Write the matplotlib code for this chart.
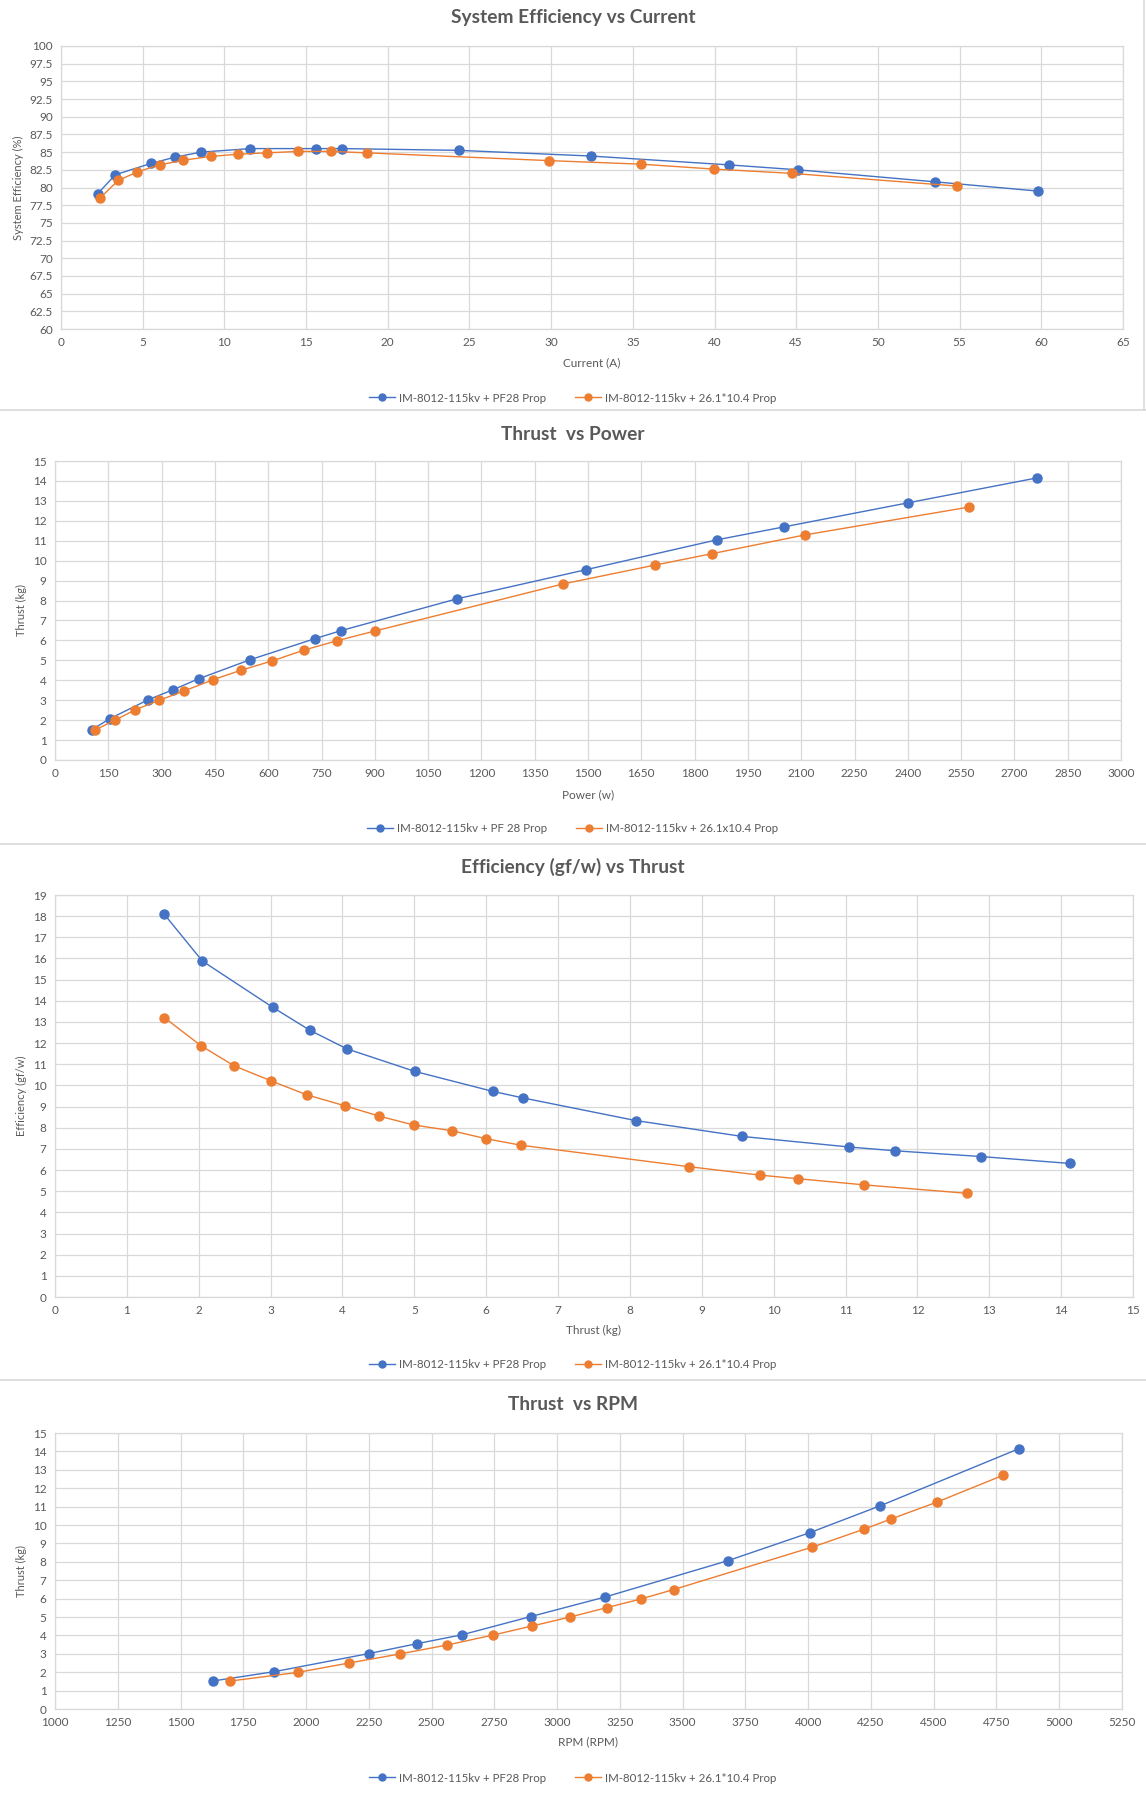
import matplotlib
matplotlib.use('Agg')
import matplotlib.pyplot as plt
from matplotlib.lines import Line2D
import numpy as np

plt.rcParams['font.family'] = ['Lato', 'DejaVu Sans']

# System efficiency vs current
cur_pf28 = [2.24, 3.32, 5.51, 6.99, 8.57, 11.59, 15.6, 17.2, 24.35, 32.42, 40.86, 45.1, 53.5, 59.77]
eff_pf28 = [79.1, 81.8, 83.4, 84.3, 85.0, 85.5, 85.5, 85.5, 85.25, 84.45, 83.2, 82.5, 80.8, 79.5]
cur_261 = [2.36, 3.5, 4.67, 6.03, 7.48, 9.18, 10.84, 12.62, 14.53, 16.52, 18.71, 29.88, 35.47, 39.98, 44.72, 54.86]
eff_261 = [78.45, 81.0, 82.2, 83.2, 83.85, 84.4, 84.7, 84.9, 85.1, 85.1, 84.9, 83.8, 83.3, 82.6, 82.0, 80.2]

# Thrust vs power
pow_pf28 = [104, 154, 263, 333, 405, 549, 732, 805, 1130, 1495, 1864, 2053, 2400, 2763]
thr_pf28 = [1.52, 2.07, 3.03, 3.53, 4.08, 5.03, 6.09, 6.49, 8.08, 9.55, 11.05, 11.7, 12.9, 14.15]
pow_261 = [112, 168, 225, 292, 363, 445, 523, 611, 702, 795, 900, 1429, 1689, 1849, 2110, 2573]
thr_261 = [1.5, 1.99, 2.51, 2.99, 3.46, 4.03, 4.5, 4.97, 5.52, 5.99, 6.47, 8.83, 9.78, 10.35, 11.29, 12.69]

# Efficiency vs thrust
et_pf28 = [1.52, 2.05, 3.03, 3.55, 4.06, 5.01, 6.09, 6.51, 8.08, 9.56, 11.05, 11.69, 12.88, 14.13]
ge_pf28 = [18.09, 15.88, 13.69, 12.6, 11.73, 10.66, 9.72, 9.41, 8.34, 7.59, 7.09, 6.91, 6.64, 6.31]
et_261 = [1.52, 2.03, 2.49, 3.01, 3.5, 4.03, 4.51, 4.99, 5.52, 6.0, 6.49, 8.82, 9.81, 10.34, 11.26, 12.69]
ge_261 = [13.21, 11.88, 10.93, 10.21, 9.56, 9.04, 8.55, 8.13, 7.86, 7.48, 7.17, 6.16, 5.76, 5.59, 5.30, 4.90]

# Thrust vs RPM
rpm_pf28 = [1628, 1874, 2249, 2442, 2623, 2894, 3192, 3680, 4006, 4288, 4840]
rt_pf28 = [1.52, 2.03, 3.01, 3.55, 4.04, 5.02, 6.09, 8.06, 9.58, 11.05, 14.15]
rpm_261 = [1698, 1967, 2171, 2373, 2563, 2745, 2900, 3052, 3198, 3334, 3464, 4017, 4224, 4331, 4514, 4776]
rt_261 = [1.52, 1.99, 2.5, 2.99, 3.48, 4.02, 4.51, 5.0, 5.51, 5.98, 6.49, 8.8, 9.78, 10.33, 11.25, 12.7]

BLUE = '#4472C4'
ORANGE = '#ED7D31'
GRID = '#D9D9D9'
TXT = '#595959'

W, H = 1146, 1796
fig = plt.figure(figsize=(W / 100, H / 100), dpi=100)


def make_axes(left, right, top, bottom):
    return fig.add_axes([left / W, 1 - bottom / H, (right - left) / W, (bottom - top) / H])


panels = [
    dict(box=(61, 1123, 46, 329), title='System Efficiency vs Current', title_y=17,
         xs=(cur_pf28, cur_261), ys=(eff_pf28, eff_261),
         xlim=(0, 65), xstep=5, ylim=(60, 100), ystep=2.5,
         xlabel='Current (A)', ylabel='System Efficiency (%)', xlabel_y=363, leg_y=398,
         labels=('IM-8012-115kv + PF28 Prop', 'IM-8012-115kv + 26.1*10.4 Prop')),
    dict(box=(55, 1121, 461, 760), title='Thrust  vs Power', title_y=435,
         xs=(pow_pf28, pow_261), ys=(thr_pf28, thr_261),
         xlim=(0, 3000), xstep=150, ylim=(0, 15), ystep=1,
         xlabel='Power (w)', ylabel='Thrust (kg)', xlabel_y=795, leg_y=829,
         labels=('IM-8012-115kv + PF 28 Prop', 'IM-8012-115kv + 26.1x10.4 Prop')),
    dict(box=(55, 1133, 895, 1297), title='Efficiency (gf/w) vs Thrust', title_y=867,
         xs=(et_pf28, et_261), ys=(ge_pf28, ge_261),
         xlim=(0, 15), xstep=1, ylim=(0, 19), ystep=1,
         xlabel='Thrust (kg)', ylabel='Efficiency (gf/w)', xlabel_y=1330, leg_y=1365,
         labels=('IM-8012-115kv + PF28 Prop', 'IM-8012-115kv + 26.1*10.4 Prop')),
    dict(box=(55, 1122, 1433, 1709), title='Thrust  vs RPM', title_y=1405,
         xs=(rpm_pf28, rpm_261), ys=(rt_pf28, rt_261),
         xlim=(1000, 5250), xstep=250, ylim=(0, 15), ystep=1,
         xlabel='RPM (RPM)', ylabel='Thrust (kg)', xlabel_y=1742, leg_y=1778,
         labels=('IM-8012-115kv + PF28 Prop', 'IM-8012-115kv + 26.1*10.4 Prop')),
]

for p in panels:
    left, right, top, bottom = p['box']
    ax = make_axes(left, right, top, bottom)
    for xv, yv, col, lab in zip(p['xs'], p['ys'], (BLUE, ORANGE), p['labels']):
        ax.plot(xv, yv, color=col, lw=1.0, marker='o', ms=6.5, label=lab, zorder=3)
    ax.set_xlim(*p['xlim'])
    ax.set_ylim(*p['ylim'])
    ax.set_xticks(np.arange(p['xlim'][0], p['xlim'][1] + p['xstep'] / 2, p['xstep']))
    ax.set_yticks(np.arange(p['ylim'][0], p['ylim'][1] + p['ystep'] / 2, p['ystep']))
    ax.set_xticklabels(['{:g}'.format(v) for v in ax.get_xticks()])
    ax.set_yticklabels(['{:g}'.format(v) for v in ax.get_yticks()])
    ax.grid(True, color=GRID, lw=0.9)
    ax.set_axisbelow(True)
    for s in ax.spines.values():
        s.set_color(GRID)
        s.set_linewidth(0.9)
    ax.tick_params(length=0, labelsize=8.5, colors=TXT, pad=6)
    ax.set_ylabel(p['ylabel'], fontsize=8, color=TXT, labelpad=4)
    fig.text(left / W + (right - left) / W / 2, 1 - p['xlabel_y'] / H, p['xlabel'],
             ha='center', va='center', fontsize=8.5, color=TXT)
    fig.text(0.5, 1 - p['title_y'] / H, p['title'], ha='center', va='center',
             fontsize=13.8, fontweight='bold', color=TXT)
    handles = [Line2D([], [], color=c, lw=1.0, marker='o', ms=5) for c in (BLUE, ORANGE)]
    fig.legend(handles, p['labels'], loc='center', bbox_to_anchor=(0.5, 1 - p['leg_y'] / H),
               ncol=2, frameon=False, fontsize=8.3, labelcolor=TXT, handlelength=2.2,
               columnspacing=2.5, handletextpad=0.4)

# panel separators
for yy in (410, 844, 1380):
    fig.add_artist(Line2D([0, 1], [1 - yy / H, 1 - yy / H], color=GRID, lw=1.2))
fig.add_artist(Line2D([1144 / W, 1144 / W], [1 - 410 / H, 1], color=GRID, lw=1.2))

fig.savefig('out.png', dpi=100, facecolor='white')
